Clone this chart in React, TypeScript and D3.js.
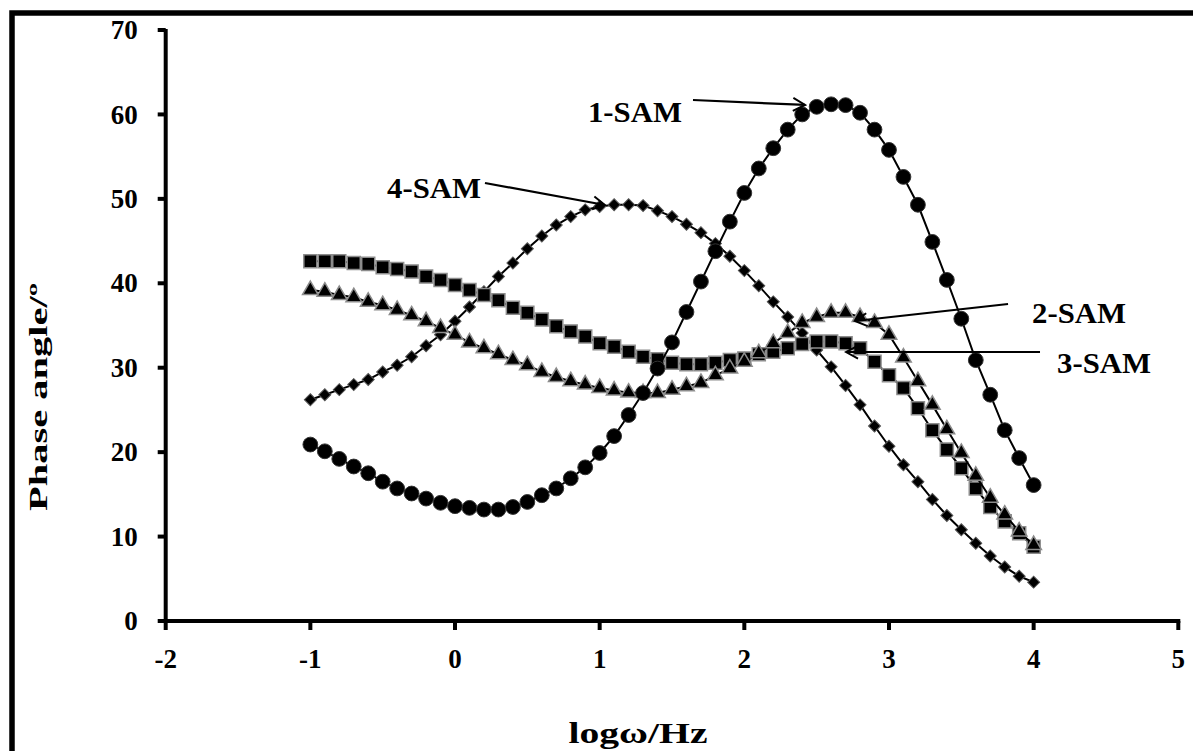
import { useEffect } from "react";
import * as d3 from "d3";

// log(frequency) sampled every 0.1 decade
const logFreq = [
  -1.0, -0.9, -0.8, -0.7, -0.6, -0.5, -0.4, -0.3, -0.2, -0.1,
  0.0, 0.1, 0.2, 0.3, 0.4, 0.5, 0.6, 0.7, 0.8, 0.9,
  1.0, 1.1, 1.2, 1.3, 1.4, 1.5, 1.6, 1.7, 1.8, 1.9,
  2.0, 2.1, 2.2, 2.3, 2.4, 2.5, 2.6, 2.7, 2.8, 2.9,
  3.0, 3.1, 3.2, 3.3, 3.4, 3.5, 3.6, 3.7, 3.8, 3.9,
  4.0,
];

const sam1 = [
  20.9, 20.1, 19.2, 18.3, 17.5, 16.5, 15.7, 15.1, 14.5, 14.0,
  13.6, 13.4, 13.2, 13.2, 13.5, 14.1, 14.9, 15.7, 16.9, 18.2,
  19.9, 21.9, 24.4, 27.0, 29.9, 33.0, 36.6, 40.2, 43.8, 47.3,
  50.7, 53.6, 56.0, 58.2, 60.0, 60.9, 61.2, 61.1, 60.2, 58.2,
  55.8, 52.6, 49.3, 44.9, 40.4, 35.8, 30.9, 26.8, 22.6, 19.3,
  16.1,
];

const sam2 = [
  39.2, 39.0, 38.6, 38.35, 37.8, 37.4, 36.85, 36.2, 35.5, 34.7,
  33.9, 33.0, 32.3, 31.6, 30.9, 30.3, 29.5, 28.9, 28.4, 28.0,
  27.6, 27.3, 27.05, 27.0, 27.0, 27.4, 27.8, 28.2, 29.1, 29.9,
  30.7, 31.7, 32.9, 34.1, 35.3, 36.0, 36.5, 36.5, 36.0, 35.3,
  33.9, 31.2, 28.4, 25.6, 22.7, 19.9, 17.2, 14.6, 12.6, 10.6,
  9.0,
];

const sam3 = [
  42.6, 42.6, 42.6, 42.4, 42.3, 41.9, 41.7, 41.4, 40.8, 40.4,
  39.8, 39.2, 38.6, 38.0, 37.1, 36.5, 35.7, 34.9, 34.3, 33.7,
  32.9, 32.5, 31.9, 31.3, 31.0, 30.6, 30.4, 30.4, 30.6, 30.9,
  31.1, 31.6, 31.9, 32.3, 32.8, 33.1, 33.1, 32.9, 32.3, 30.7,
  29.1, 27.6, 25.2, 22.6, 20.3, 18.1, 15.7, 13.5, 11.8, 10.4,
  8.8,
];

const sam4 = [
  26.2, 26.8, 27.4, 28.0, 28.6, 29.5, 30.3, 31.3, 32.6, 33.9,
  35.5, 37.2, 39.0, 40.8, 42.4, 44.1, 45.6, 46.9, 47.9, 48.7,
  49.1, 49.3, 49.3, 49.2, 48.6, 47.9, 47.0, 46.0, 44.7, 43.2,
  41.5, 39.7, 37.8, 36.0, 34.1, 32.1, 30.1, 27.9, 25.6, 23.1,
  20.7, 18.5, 16.5, 14.4, 12.5, 10.8, 9.2, 7.7, 6.4, 5.3,
  4.6,
];

const xTicks = [-2, -1, 0, 1, 2, 3, 4, 5];
const yTicks = [0, 10, 20, 30, 40, 50, 60, 70];

// annotation labels: text anchor point, arrow start and arrow tip (data units)
const labelNames = ["1-SAM", "4-SAM", "2-SAM", "3-SAM"];
const labelPos = [
  [0.919, 59.1],
  [-0.47, 50.1],
  [3.989, 35.3],
  [4.162, 29.37],
];
const arrowFrom = [
  [1.645, 61.71],
  [0.207, 51.88],
  [3.823, 37.55],
  [4.044, 31.86],
];
const arrowTo = [
  [2.42, 61.12],
  [1.037, 49.27],
  [2.765, 35.53],
  [2.703, 31.86],
];

const W = 1193;
const H = 751;
const FONT = "'Liberation Serif', 'Times New Roman', serif";

export default function App() {
  useEffect(() => {
    document.body.style.margin = "0";
  }, []);

  const x = d3.scaleLinear().domain([-2, 5]).range([165.7, 1178.3]);
  const y = d3.scaleLinear().domain([0, 70]).range([621, 30]);

  const line = d3
    .line<number>()
    .x((_, i) => x(logFreq[i]))
    .y((d) => y(d));

  // draw order: diamonds, squares, triangles, circles on top
  const series = [
    { values: sam4, path: d3.symbol(d3.symbolSquare, 72)(), rot: 45, stroke: "#555", sw: 1 },
    { values: sam3, path: d3.symbol(d3.symbolSquare, 170)(), rot: 0, stroke: "#8c8c8c", sw: 1.5 },
    { values: sam2, path: d3.symbol(d3.symbolTriangle, 105)(), rot: 0, stroke: "#8c8c8c", sw: 1.5 },
    { values: sam1, path: d3.symbol(d3.symbolCircle, 172)(), rot: 0, stroke: "#333", sw: 1 },
  ];

  return (
    <svg
      width={W}
      height={H}
      style={{ position: "absolute", left: 0, top: 0, display: "block" }}
      fontFamily={FONT}
    >
      <defs>
        <marker
          id="arrowhead"
          viewBox="0 0 16 16"
          refX={14}
          refY={8}
          markerWidth={16}
          markerHeight={16}
          markerUnits="userSpaceOnUse"
          orient="auto"
        >
          <path d="M2,1.5 L14,8 L2,14.5" fill="none" stroke="#000" strokeWidth={2} />
        </marker>
      </defs>
      <rect width={W} height={H} fill="#fff" />
      {/* outer frame */}
      <path d={`M12,${H + 20} V13 H${W + 20}`} fill="none" stroke="#000" strokeWidth={5.5} />

      {/* axes */}
      <line x1={x(-2)} x2={x(-2)} y1={y(0) + 2} y2={y(70) - 1} stroke="#000" strokeWidth={4} />
      <line x1={x(-2) - 2} x2={x(5) + 2} y1={y(0)} y2={y(0)} stroke="#000" strokeWidth={4} />
      {yTicks.map((t) => (
        <g key={`y${t}`}>
          <line x1={x(-2) - 8} x2={x(-2)} y1={y(t)} y2={y(t)} stroke="#000" strokeWidth={4} />
          <text
            x={x(-2) - 28}
            y={y(t)}
            dy="0.34em"
            textAnchor="end"
            fontSize={27}
            fontWeight="bold"
          >
            {t}
          </text>
        </g>
      ))}
      {xTicks.map((t) => (
        <g key={`x${t}`}>
          <line x1={x(t)} x2={x(t)} y1={y(0)} y2={y(0) + 9} stroke="#000" strokeWidth={4} />
          <text x={x(t)} y={y(0) + 47} textAnchor="middle" fontSize={27} fontWeight="bold">
            {t}
          </text>
        </g>
      ))}

      {/* axis titles */}
      <text
        transform={`translate(47,397) rotate(-90)`}
        textAnchor="middle"
        fontSize={25}
        fontWeight="bold"
        textLength={228}
        lengthAdjust="spacingAndGlyphs"
      >
        Phase angle/º
      </text>
      <text
        x={638}
        y={743}
        textAnchor="middle"
        fontSize={29}
        fontWeight="bold"
        textLength={139}
        lengthAdjust="spacingAndGlyphs"
      >
        logω/Hz
      </text>

      {/* series */}
      {series.map((s, si) => (
        <g key={si}>
          <path d={line(s.values) ?? ""} fill="none" stroke="#000" strokeWidth={2} />
          {s.values.map((v, i) => (
            <path
              key={i}
              d={s.path ?? ""}
              transform={`translate(${x(logFreq[i])},${y(v)}) rotate(${s.rot})`}
              fill="#000"
              stroke={s.stroke}
              strokeWidth={s.sw}
            />
          ))}
        </g>
      ))}

      {/* annotations */}
      {labelNames.map((name, i) => (
        <g key={name}>
          <line
            x1={x(arrowFrom[i][0])}
            y1={y(arrowFrom[i][1])}
            x2={x(arrowTo[i][0])}
            y2={y(arrowTo[i][1])}
            stroke="#000"
            strokeWidth={2.2}
            markerEnd="url(#arrowhead)"
          />
          <text
            x={x(labelPos[i][0])}
            y={y(labelPos[i][1])}
            fontSize={30}
            fontWeight="bold"
            textLength={94}
            lengthAdjust="spacingAndGlyphs"
          >
            {name}
          </text>
        </g>
      ))}
    </svg>
  );
}
